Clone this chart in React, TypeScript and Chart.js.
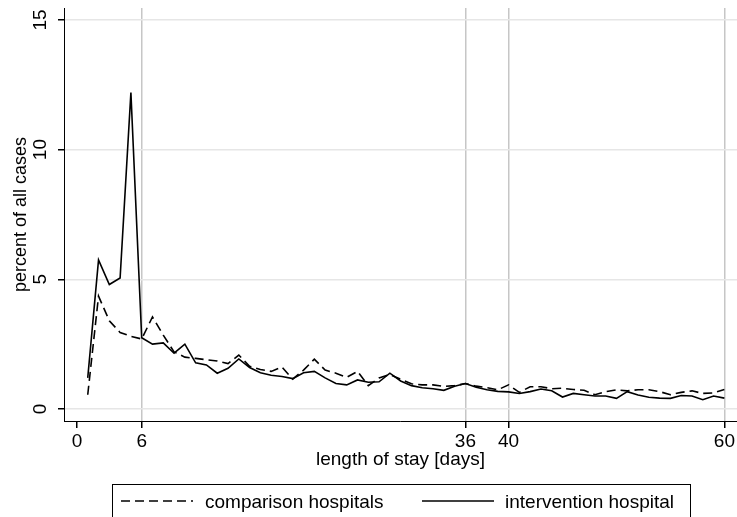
import React, { useEffect, useRef } from "react";
import { Chart, registerables } from "chart.js";

Chart.register(...registerables);

const FONT = '"Liberation Sans", Arial, Helvetica, sans-serif';

const days = [
  1, 2, 3, 4, 5, 6, 7, 8, 9, 10, 11, 12, 13, 14, 15, 16, 17, 18, 19, 20,
  21, 22, 23, 24, 25, 26, 27, 28, 29, 30, 31, 32, 33, 34, 35, 36, 37, 38, 39, 40,
  41, 42, 43, 44, 45, 46, 47, 48, 49, 50, 51, 52, 53, 54, 55, 56, 57, 58, 59, 60,
];

const comparison = [
  0.55, 4.35, 3.4, 2.95, 2.8, 2.7, 3.55, 2.85, 2.2, 2.0,
  1.95, 1.9, 1.85, 1.75, 2.08, 1.65, 1.52, 1.45, 1.62, 1.15,
  1.5, 1.92, 1.5, 1.38, 1.22, 1.45, 0.9, 1.2, 1.33, 1.15,
  0.97, 0.93, 0.93, 0.87, 0.9, 0.98, 0.88, 0.82, 0.74, 0.93,
  0.64, 0.86, 0.86, 0.78, 0.8, 0.75, 0.72, 0.55, 0.67, 0.74,
  0.7, 0.74, 0.74, 0.67, 0.55, 0.64, 0.7, 0.6, 0.62, 0.75,
];

const intervention = [
  1.2, 5.75, 4.8, 5.05, 12.2, 2.75, 2.5, 2.55, 2.15, 2.5,
  1.78, 1.7, 1.38, 1.57, 1.93, 1.6, 1.4, 1.3, 1.25, 1.17,
  1.4, 1.45, 1.2, 0.98, 0.93, 1.12, 1.03, 1.05, 1.38, 1.08,
  0.9, 0.82, 0.78, 0.72, 0.88, 0.98, 0.84, 0.74, 0.68, 0.66,
  0.6, 0.67, 0.77, 0.7, 0.46, 0.6, 0.55, 0.5, 0.5, 0.41,
  0.67, 0.54, 0.45, 0.42, 0.41, 0.52, 0.5, 0.36, 0.5, 0.42,
];

const seriesLabels = ["comparison hospitals", "intervention hospital"];
const xTickValues = [0, 6, 36, 40, 60];
const yTickValues = [0, 5, 10, 15];
const xTitle = "length of stay [days]";
const yTitle = "percent of all cases";

const textPlugin = {
  id: "stataText",
  afterDraw(chart: any) {
    const ctx = chart.ctx as CanvasRenderingContext2D;
    const ys = chart.scales.y;
    const area = chart.chartArea;
    ctx.save();
    ctx.fillStyle = "#000";

    // rotated y tick labels
    ctx.font = `19px ${FONT}`;
    ctx.textAlign = "center";
    ctx.textBaseline = "middle";
    for (const v of yTickValues) {
      const py = ys.getPixelForValue(v);
      ctx.save();
      ctx.translate(41, py);
      ctx.rotate(-Math.PI / 2);
      ctx.fillText(String(v), 0, 0);
      ctx.restore();
    }

    // y title
    ctx.font = `18px ${FONT}`;
    ctx.save();
    ctx.translate(21, (area.top + area.bottom) / 2);
    ctx.rotate(-Math.PI / 2);
    ctx.fillText(yTitle, 0, 0);
    ctx.restore();

    // x title
    ctx.font = `19px ${FONT}`;
    ctx.textBaseline = "alphabetic";
    ctx.fillText(xTitle, (area.left + area.right) / 2, 465);

    // legend box
    ctx.strokeStyle = "#000";
    ctx.lineWidth = 1;
    ctx.strokeRect(112.5, 484.5, 578, 40);

    const ds = chart.data.datasets;
    const entries = [
      { x0: 121, x1: 193, tx: 205, d: ds[0] },
      { x0: 422, x1: 494, tx: 505, d: ds[1] },
    ];
    for (const e of entries) {
      ctx.save();
      ctx.strokeStyle = e.d.borderColor;
      ctx.lineWidth = e.d.borderWidth;
      ctx.setLineDash(e.d.borderDash || []);
      ctx.beginPath();
      ctx.moveTo(e.x0, 501);
      ctx.lineTo(e.x1, 501);
      ctx.stroke();
      ctx.restore();
      ctx.textAlign = "left";
      ctx.textBaseline = "alphabetic";
      ctx.fillText(e.d.label, e.tx, 508);
    }
    ctx.restore();
  },
};

export default function App() {
  const ref = useRef<HTMLCanvasElement | null>(null);

  useEffect(() => {
    document.body.style.margin = "0";
    const canvas = ref.current;
    if (!canvas) return;

    const chart = new Chart(canvas, {
      type: "line",
      data: {
        datasets: [
          {
            label: seriesLabels[0],
            data: days.map((d, i) => ({ x: d, y: comparison[i] })),
            borderColor: "#000",
            borderWidth: 1.6,
            borderDash: [9, 5],
            pointRadius: 0,
            tension: 0,
            fill: false,
          },
          {
            label: seriesLabels[1],
            data: days.map((d, i) => ({ x: d, y: intervention[i] })),
            borderColor: "#000",
            borderWidth: 1.6,
            pointRadius: 0,
            tension: 0,
            fill: false,
          },
        ],
      },
      options: {
        responsive: false,
        animation: false,
        devicePixelRatio: 1,
        layout: { padding: { top: 8, right: 0, left: 0, bottom: 0 } },
        plugins: {
          legend: { display: false },
          tooltip: { enabled: false },
          title: { display: false },
        },
        scales: {
          x: {
            type: "linear",
            min: -1.2,
            max: 61.17,
            afterBuildTicks: (scale: any) => {
              scale.ticks = xTickValues.map((v) => ({ value: v }));
            },
            afterFit: (scale: any) => {
              scale.height = 96;
            },
            grid: {
              color: (c: any) =>
                c.tick && c.tick.value === 0 ? "rgba(0,0,0,0)" : "#c6c6c6",
              lineWidth: 1.5,
              tickColor: "#000",
              tickLength: 7,
              drawTicks: true,
            },
            border: { display: true, color: "#000", width: 1 },
            ticks: {
              color: "#000",
              font: { family: FONT, size: 19 },
              padding: 2,
              minRotation: 0,
              maxRotation: 0,
              autoSkip: false,
            },
          },
          y: {
            type: "linear",
            min: -0.463,
            max: 15.46,
            afterBuildTicks: (scale: any) => {
              scale.ticks = yTickValues.map((v) => ({ value: v }));
            },
            afterFit: (scale: any) => {
              scale.width = 64;
            },
            grid: {
              color: "#e6e6e6",
              lineWidth: 1.5,
              tickColor: "#000",
              tickLength: 6,
              drawTicks: true,
            },
            border: { display: true, color: "#000", width: 1 },
            ticks: { display: false },
          },
        },
      },
      plugins: [textPlugin],
    } as any);

    return () => chart.destroy();
  }, []);

  return (
    <canvas
      ref={ref}
      width={737}
      height={517}
      style={{ display: "block", width: 737, height: 517 }}
    />
  );
}
